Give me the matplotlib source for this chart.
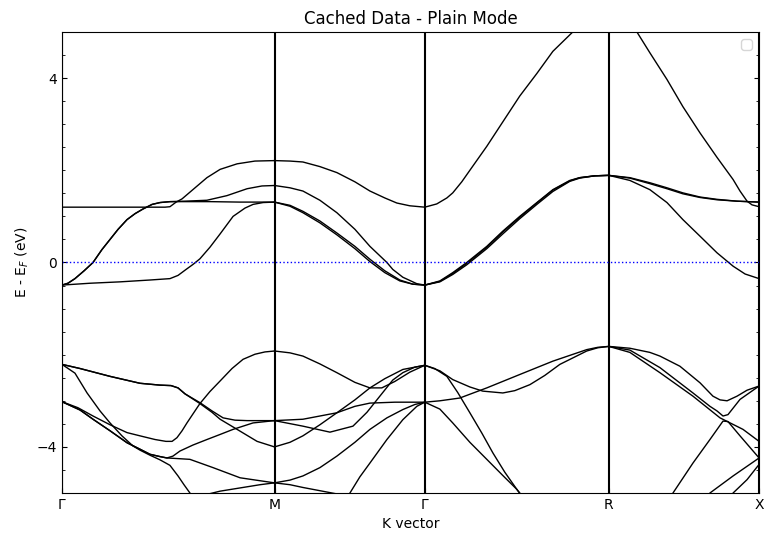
import matplotlib
matplotlib.use('Agg')
import matplotlib.pyplot as plt
from matplotlib.ticker import MultipleLocator

# high symmetry points along the path
labels = ['Γ', 'M', 'Γ', 'R', 'X']
kpoints = [0.0, 1.0, 1.7071, 2.5731, 3.2802]

# bands per segment: (fraction along segment, energy in eV)
gm_lines = [
    ([0, 0.179, 0.367, 0.485, 0.508, 0.537, 0.565, 0.626, 0.682, 0.744, 0.824, 0.908, 1.0],
     [1.20, 1.20, 1.20, 1.20, 1.21, 1.31, 1.38, 1.62, 1.84, 2.02, 2.14, 2.20, 2.21]),
    ([0, 0.028, 0.061, 0.104, 0.146, 0.188, 0.226, 0.264, 0.306, 0.344, 0.381, 0.424, 0.461, 0.508, 0.579, 0.696, 0.838, 1.0],
     [-0.49, -0.45, -0.35, -0.18, 0.0, 0.28, 0.50, 0.72, 0.93, 1.06, 1.16, 1.26, 1.30, 1.32, 1.32, 1.32, 1.31, 1.31]),
    ([0, 0.028, 0.061, 0.104, 0.146, 0.188, 0.226, 0.264, 0.306, 0.344, 0.381, 0.424, 0.461, 0.508, 0.579, 0.682, 0.776, 0.871, 0.941, 1.0],
     [-0.49, -0.45, -0.35, -0.18, 0.0, 0.28, 0.50, 0.72, 0.93, 1.06, 1.16, 1.26, 1.30, 1.32, 1.33, 1.35, 1.45, 1.60, 1.66, 1.67]),
    ([0, 0.132, 0.273, 0.414, 0.508, 0.546, 0.584, 0.617, 0.649, 0.696, 0.744, 0.805, 0.861, 0.899, 0.946, 1.0],
     [-0.49, -0.45, -0.42, -0.38, -0.35, -0.28, -0.15, -0.04, 0.08, 0.33, 0.62, 1.00, 1.18, 1.26, 1.30, 1.31]),
    ([0, 0.085, 0.226, 0.367, 0.461, 0.513, 0.546, 0.579, 0.649, 0.706, 0.758, 0.814, 0.871, 1.0],
     [-2.21, -2.30, -2.47, -2.62, -2.66, -2.67, -2.72, -2.85, -3.04, -3.22, -3.37, -3.42, -3.43, -3.43]),
    ([0, 0.085, 0.226, 0.367, 0.461, 0.513, 0.546, 0.579, 0.649, 0.706, 0.744, 0.824, 0.918, 1.0],
     [-2.21, -2.30, -2.47, -2.62, -2.66, -2.67, -2.72, -2.85, -3.06, -3.25, -3.40, -3.62, -3.88, -4.00]),
    ([0, 0.061, 0.118, 0.179, 0.226, 0.282, 0.334, 0.367, 0.414, 0.461, 0.508, 0.546, 0.574, 0.602, 0.631],
     [-2.21, -2.40, -2.83, -3.22, -3.48, -3.76, -3.98, -4.07, -4.18, -4.28, -4.40, -4.63, -4.82, -5.0, -5.2]),
    ([0, 0.075, 0.146, 0.226, 0.306, 0.367, 0.438, 0.489, 0.518, 0.541, 0.565, 0.588, 0.617, 0.649, 0.696, 0.744, 0.800, 0.852, 0.908, 0.955, 1.0],
     [-3.02, -3.15, -3.33, -3.52, -3.69, -3.76, -3.84, -3.88, -3.88, -3.80, -3.65, -3.48, -3.28, -3.06, -2.80, -2.57, -2.30, -2.10, -1.99, -1.94, -1.92]),
    ([0, 0.085, 0.146, 0.226, 0.306, 0.367, 0.414, 0.461, 0.494, 0.522, 0.555, 0.616, 0.682, 0.744, 0.805, 0.899, 1.0],
     [-3.02, -3.20, -3.40, -3.65, -3.91, -4.05, -4.16, -4.21, -4.24, -4.20, -4.09, -3.96, -3.84, -3.73, -3.62, -3.48, -3.43]),
    ([0, 0.085, 0.146, 0.226, 0.306, 0.367, 0.414, 0.461, 0.494, 0.532, 0.602, 0.711, 0.838, 1.0],
     [-3.02, -3.20, -3.40, -3.65, -3.91, -4.05, -4.16, -4.21, -4.24, -4.25, -4.27, -4.45, -4.67, -4.78]),
    ([0.626, 0.682, 0.744, 0.838, 0.932, 1.0],
     [-5.2, -5.03, -4.96, -4.89, -4.82, -4.78]),
]

mg_lines = [
    ([0, 0.103, 0.189, 0.302, 0.415, 0.535, 0.635, 0.734, 0.814, 0.900, 1.0],
     [2.21, 2.20, 2.18, 2.08, 1.95, 1.75, 1.55, 1.40, 1.29, 1.23, 1.20]),
    ([0, 0.103, 0.189, 0.302, 0.415, 0.535, 0.635, 0.748, 0.787, 0.854, 0.947, 1.0],
     [1.67, 1.62, 1.55, 1.35, 1.08, 0.72, 0.35, 0.0, -0.15, -0.32, -0.46, -0.49]),
    ([0, 0.103, 0.189, 0.302, 0.415, 0.535, 0.635, 0.734, 0.834, 0.920, 1.0],
     [1.31, 1.24, 1.11, 0.90, 0.64, 0.35, 0.07, -0.18, -0.38, -0.47, -0.49]),
    ([0, 0.103, 0.189, 0.302, 0.415, 0.535, 0.635, 0.734, 0.834, 0.920, 1.0],
     [1.31, 1.22, 1.08, 0.86, 0.60, 0.30, 0.02, -0.22, -0.40, -0.47, -0.49]),
    ([0, 0.103, 0.189, 0.302, 0.415, 0.535, 0.635, 0.714, 0.801, 0.900, 1.0],
     [-1.92, -1.96, -2.03, -2.20, -2.39, -2.60, -2.72, -2.72, -2.58, -2.38, -2.23]),
    ([0, 0.189, 0.415, 0.535, 0.635, 0.801, 1.0],
     [-3.43, -3.40, -3.26, -3.12, -3.05, -3.03, -3.03]),
    ([0, 0.189, 0.369, 0.522, 0.615, 0.701, 0.787, 0.854, 0.934, 1.0],
     [-3.43, -3.55, -3.68, -3.55, -3.25, -2.90, -2.55, -2.39, -2.27, -2.23]),
    ([0, 0.103, 0.189, 0.302, 0.415, 0.535, 0.635, 0.734, 0.854, 1.0],
     [-4.00, -3.90, -3.76, -3.52, -3.26, -2.98, -2.72, -2.52, -2.32, -2.23]),
    ([0, 0.103, 0.189, 0.302, 0.415, 0.535, 0.635, 0.748, 0.854, 0.934, 1.0],
     [-4.78, -4.72, -4.63, -4.45, -4.20, -3.90, -3.62, -3.37, -3.19, -3.08, -3.03]),
    ([0, 0.103, 0.189, 0.302, 0.415, 0.502],
     [-4.78, -4.82, -4.88, -4.95, -5.02, -5.10]),
    ([0.435, 0.502, 0.568, 0.635, 0.748, 0.854, 0.947, 1.0],
     [-5.3, -5.0, -4.65, -4.35, -3.84, -3.41, -3.12, -3.03]),
]

gr_lines = [
    ([0, 0.065, 0.120, 0.152, 0.201, 0.245, 0.337, 0.424, 0.516, 0.609, 0.696, 0.804, 0.897, 1.0],
     [1.20, 1.27, 1.40, 1.51, 1.75, 2.00, 2.52, 3.05, 3.61, 4.10, 4.58, 5.00, 5.35, 5.50]),
    ([0, 0.082, 0.152, 0.228, 0.337, 0.424, 0.516, 0.609, 0.696, 0.788, 0.842, 0.924, 1.0],
     [-0.49, -0.40, -0.22, 0.00, 0.35, 0.68, 1.00, 1.30, 1.58, 1.78, 1.84, 1.88, 1.89]),
    ([0, 0.082, 0.152, 0.228, 0.337, 0.424, 0.516, 0.609, 0.696, 0.788, 0.842, 0.924, 1.0],
     [-0.49, -0.42, -0.26, -0.05, 0.30, 0.62, 0.95, 1.26, 1.54, 1.76, 1.83, 1.88, 1.89]),
    ([0, 0.082, 0.152, 0.228, 0.337, 0.424, 0.516, 0.609, 0.696, 0.788, 0.842, 0.924, 1.0],
     [-0.49, -0.41, -0.24, -0.02, 0.33, 0.66, 0.98, 1.29, 1.57, 1.77, 1.84, 1.88, 1.89]),
    ([0, 0.082, 0.152, 0.245, 0.315, 0.424, 0.489, 0.571, 0.652, 0.734, 0.880, 0.940, 1.0],
     [-2.23, -2.35, -2.54, -2.70, -2.79, -2.83, -2.78, -2.65, -2.45, -2.21, -1.92, -1.85, -1.82]),
    ([0, 0.054, 0.120, 0.179, 0.245, 0.310, 0.370, 0.435, 0.5, 0.554],
     [-2.23, -2.30, -2.47, -2.82, -3.26, -3.70, -4.13, -4.55, -4.92, -5.2]),
    ([0, 0.082, 0.190, 0.337, 0.516, 0.696, 0.880, 0.940, 1.0],
     [-3.03, -3.00, -2.94, -2.72, -2.43, -2.14, -1.89, -1.84, -1.82]),
    ([0, 0.082, 0.152, 0.245, 0.337, 0.424, 0.5, 0.554],
     [-3.03, -3.18, -3.48, -3.90, -4.27, -4.62, -4.92, -5.2]),
]

rx_lines = [
    ([0, 0.107, 0.187, 0.273, 0.387, 0.493, 0.607, 0.72, 0.827, 0.873, 0.92, 0.953, 1.0],
     [5.50, 5.30, 5.00, 4.55, 3.97, 3.38, 2.81, 2.28, 1.80, 1.55, 1.33, 1.25, 1.21]),
    ([0, 0.14, 0.273, 0.387, 0.493, 0.607, 0.72, 0.853, 1.0],
     [1.89, 1.84, 1.73, 1.62, 1.51, 1.42, 1.37, 1.33, 1.31]),
    ([0, 0.14, 0.273, 0.387, 0.493, 0.607, 0.72, 0.853, 1.0],
     [1.89, 1.83, 1.71, 1.60, 1.49, 1.41, 1.36, 1.33, 1.31]),
    ([0, 0.14, 0.273, 0.387, 0.493, 0.607, 0.72, 0.827, 0.907, 1.0],
     [1.89, 1.78, 1.58, 1.30, 0.93, 0.57, 0.21, -0.08, -0.25, -0.35]),
    ([0, 0.14, 0.273, 0.34, 0.473, 0.607, 0.693, 0.74, 0.787, 0.853, 0.92, 1.0],
     [-1.82, -1.86, -1.95, -2.03, -2.25, -2.61, -2.90, -2.98, -3.00, -2.90, -2.77, -2.68]),
    ([0, 0.14, 0.34, 0.56, 0.673, 0.72, 0.76, 0.793, 0.873, 1.0],
     [-1.82, -1.90, -2.28, -2.83, -3.12, -3.22, -3.33, -3.30, -2.97, -2.68]),
    ([0, 0.14, 0.34, 0.56, 0.74, 0.893, 1.0],
     [-1.82, -1.95, -2.39, -2.90, -3.37, -3.62, -3.88]),
    ([0.393, 0.427, 0.56, 0.673, 0.76, 0.793, 0.873, 1.0],
     [-5.2, -5.0, -4.35, -3.84, -3.44, -3.45, -3.76, -4.24]),
    ([0.64, 0.673, 0.827, 1.0],
     [-5.2, -5.0, -4.63, -4.24]),
    ([0.793, 0.827, 0.92, 1.0],
     [-5.2, -5.0, -4.71, -4.38]),
]

segments = [gm_lines, mg_lines, gr_lines, rx_lines]

fig = plt.figure(figsize=(7.73, 5.42), dpi=100)
ax = fig.add_axes([0.0802, 0.0904, 0.9018, 0.8506])

for i, seg in enumerate(segments):
    k0 = kpoints[i]
    dk = kpoints[i + 1] - kpoints[i]
    for frac, energy in seg:
        ax.plot([k0 + f * dk for f in frac], energy, color='black', linewidth=1.0)

for k in kpoints:
    ax.axvline(k, color='black', linewidth=1.5)
ax.axhline(0, color='blue', linestyle=':', linewidth=1.0)

ax.set_xlim(kpoints[0], kpoints[-1])
ax.set_ylim(-5, 5)
ax.set_xticks(kpoints)
ax.set_xticklabels(labels)
ax.yaxis.set_major_locator(MultipleLocator(4))
ax.yaxis.set_minor_locator(MultipleLocator(0.5))
ax.tick_params(axis='y', which='both', direction='in', right=True)
ax.tick_params(axis='x', direction='in')
ax.set_xlabel('K vector')
ax.set_ylabel('E - E$_F$ (eV)')
ax.set_title('Cached Data - Plain Mode')
ax.legend(loc='upper right')

fig.savefig('out.png', dpi=100)
